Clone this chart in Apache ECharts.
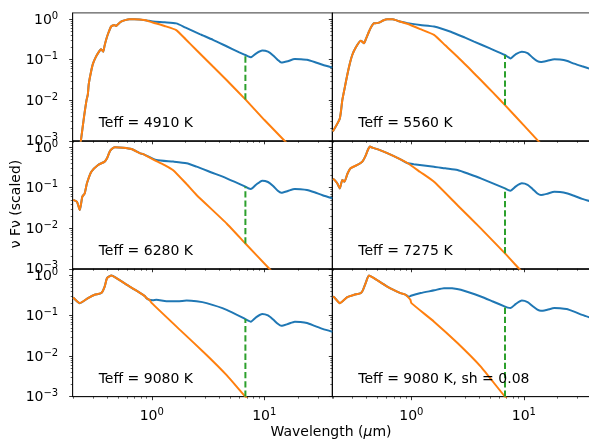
<!DOCTYPE html>
<html><head><meta charset="utf-8">
<script src="https://cdn.jsdelivr.net/npm/echarts@6/dist/echarts.min.js"></script>
<style>html,body{margin:0;padding:0;background:#fff}#c{width:589px;height:439px}</style>
</head><body><div id="c"></div>
<script>
// ---------------- DATA ----------------
const panelLabels = ['Teff = 4910 K', 'Teff = 5560 K', 'Teff = 6280 K', 'Teff = 7275 K', 'Teff = 9080 K', 'Teff = 9080 K, sh = 0.08'];

// stellar photosphere (orange)
const starWl1 = [0.22, 0.234, 0.25, 0.263, 0.27, 0.275, 0.288, 0.3, 0.319, 0.335, 0.353, 0.362, 0.37, 0.38, 0.392, 0.41, 0.434, 0.45, 0.465, 0.48, 0.5, 0.533, 0.58, 0.632, 0.7, 0.776, 0.9, 1.02, 1.3, 1.65, 2.0, 2.49, 3.5, 4.62, 6.8, 10, 15.3, 25, 40.3];
const starFlux1 = [0.0003, 0.001, 0.004, 0.0102, 0.014, 0.025, 0.05, 0.08, 0.119, 0.15, 0.181, 0.17, 0.158, 0.22, 0.308, 0.45, 0.656, 0.70, 0.72, 0.68, 0.75, 0.87, 0.95, 1.0, 1.0, 0.98, 0.93, 0.83, 0.68, 0.54, 0.32, 0.174, 0.068, 0.0316, 0.0105, 0.0033, 0.00098, 0.000225, 0.000055];
const starWl2 = [0.2, 0.231, 0.243, 0.255, 0.269, 0.285, 0.298, 0.32, 0.354, 0.365, 0.379, 0.395, 0.419, 0.44, 0.465, 0.49, 0.515, 0.56, 0.61, 0.68, 0.75, 0.92, 1.2, 1.59, 2.0, 2.57, 3.2, 4.14, 5.3, 6.8, 10, 13.4, 25, 40.3];
const starFlux2 = [0.0017, 0.00357, 0.0101, 0.02, 0.042, 0.085, 0.131, 0.2, 0.295, 0.28, 0.254, 0.33, 0.49, 0.65, 0.795, 0.80, 0.82, 0.93, 1.0, 1.0, 0.92, 0.77, 0.57, 0.41, 0.227, 0.119, 0.065, 0.0316, 0.0157, 0.0076, 0.0024, 0.001, 0.000154, 0.000038];
const starWl3 = [0.2, 0.216, 0.229, 0.241, 0.253, 0.265, 0.29, 0.333, 0.381, 0.4, 0.42, 0.438, 0.469, 0.556, 0.66, 0.78, 0.84, 1.1, 1.3, 1.55, 2.0, 2.5, 4.63, 6.8, 11.1, 20, 40.3];
const starFlux3 = [0.05, 0.045, 0.028, 0.06, 0.072, 0.128, 0.248, 0.363, 0.44, 0.53, 0.75, 0.887, 0.99, 0.97, 0.90, 0.71, 0.67, 0.45, 0.36, 0.27, 0.13, 0.066, 0.0131, 0.0042, 0.001, 0.00017, 0.000021];
const starWl4 = [0.2, 0.205, 0.219, 0.231, 0.243, 0.254, 0.27, 0.288, 0.33, 0.366, 0.39, 0.41, 0.428, 0.45, 0.498, 0.61, 0.8, 0.93, 1.2, 1.59, 2.57, 4.14, 6.8, 9.08, 15, 40.3];
const starFlux4 = [0.165, 0.16, 0.128, 0.096, 0.155, 0.14, 0.22, 0.30, 0.363, 0.44, 0.6, 0.85, 1.03, 0.97, 0.89, 0.71, 0.50, 0.40, 0.243, 0.14, 0.037, 0.0099, 0.0024, 0.001, 0.00022, 0.000012];
const starWl5 = [0.2, 0.229, 0.271, 0.31, 0.356, 0.381, 0.4, 0.438, 0.485, 0.637, 0.837, 0.87, 0.897, 0.95, 1.0, 1.78, 3.07, 4.63, 6.8, 10, 20, 40.3];
const starFlux5 = [0.28, 0.203, 0.27, 0.326, 0.36, 0.52, 0.84, 0.98, 0.84, 0.52, 0.326, 0.30, 0.27, 0.245, 0.203, 0.0445, 0.0107, 0.0034, 0.001, 0.00032, 0.00004, 0.000005];
const starWl6 = [0.2, 0.205, 0.231, 0.269, 0.31, 0.354, 0.37, 0.392, 0.419, 0.465, 0.61, 0.8, 0.89, 0.93, 0.98, 1.0, 1.59, 2.57, 4.14, 6.8, 10, 20, 40.3];
const starFlux6 = [0.29, 0.286, 0.203, 0.286, 0.326, 0.36, 0.42, 0.634, 0.98, 0.84, 0.52, 0.36, 0.326, 0.29, 0.245, 0.203, 0.071, 0.021, 0.0055, 0.001, 0.00032, 0.00004, 0.000005];

// star + dust model (blue): identical to the star up to divergeWl, then these points
const divergeWl = [0.9, 0.75, 0.84, 0.93, 0.95, 0.89];
const diskWl1 = [1.02, 1.3, 1.65, 2.0, 2.67, 3.5, 4.62, 6.0, 6.8, 7.2, 7.6, 8.5, 9.6, 10.8, 12, 13.2, 14.2, 16.2, 18.7, 21, 24, 28, 33, 40.3];
const diskFlux1 = [0.88, 0.84, 0.79, 0.62, 0.43, 0.31, 0.215, 0.152, 0.131, 0.121, 0.115, 0.144, 0.168, 0.158, 0.128, 0.099, 0.085, 0.092, 0.104, 0.103, 0.1, 0.088, 0.075, 0.064];
const diskWl2 = [0.92, 1.2, 1.59, 2.24, 3.0, 3.61, 5.0, 6.8, 7.2, 7.6, 8.5, 9.6, 10.8, 12, 13.2, 14.2, 16.2, 18.7, 21, 24, 28, 33, 40.3];
const diskFlux2 = [0.80, 0.72, 0.66, 0.49, 0.35, 0.28, 0.19, 0.131, 0.118, 0.108, 0.138, 0.158, 0.146, 0.112, 0.092, 0.088, 0.094, 0.103, 0.101, 0.094, 0.08, 0.069, 0.058];
const diskWl3 = [1.1, 1.55, 2.04, 2.5, 3.4, 4.63, 6.8, 7.2, 7.6, 8.5, 9.6, 10.8, 12, 13.2, 14.2, 16.2, 18.7, 21, 24, 28, 33, 40.3];
const diskFlux3 = [0.48, 0.44, 0.40, 0.33, 0.237, 0.17, 0.106, 0.097, 0.093, 0.12, 0.149, 0.138, 0.11, 0.084, 0.075, 0.083, 0.093, 0.092, 0.088, 0.077, 0.065, 0.055];
const diskWl4 = [1.05, 1.59, 2.0, 2.57, 3.3, 4.14, 6.8, 7.2, 7.6, 8.5, 9.6, 10.8, 12, 13.2, 14.2, 16.2, 18.7, 21, 24, 28, 33, 40.3];
const diskFlux4 = [0.38, 0.33, 0.30, 0.273, 0.215, 0.17, 0.096, 0.088, 0.084, 0.108, 0.128, 0.118, 0.092, 0.072, 0.066, 0.071, 0.079, 0.078, 0.073, 0.063, 0.053, 0.045];
const diskWl5 = [1.02, 1.1, 1.35, 1.7, 2.04, 2.5, 3.07, 4.63, 6.8, 7.2, 7.6, 8.5, 9.6, 10.8, 12, 13.2, 14.2, 16.2, 18.7, 21, 24, 28, 33, 40.3];
const diskFlux5 = [0.24, 0.245, 0.225, 0.225, 0.235, 0.225, 0.203, 0.139, 0.082, 0.075, 0.071, 0.092, 0.11, 0.101, 0.08, 0.063, 0.056, 0.062, 0.071, 0.07, 0.066, 0.056, 0.047, 0.040];
const diskWl6 = [0.95, 0.99, 1.21, 1.6, 1.95, 2.3, 2.75, 4.14, 5.3, 6.8, 7.2, 7.6, 8.5, 9.6, 10.8, 12, 13.2, 14.2, 16.2, 18.7, 21, 24, 28, 33, 40.3];
const diskFlux6 = [0.29, 0.308, 0.36, 0.42, 0.476, 0.47, 0.433, 0.296, 0.223, 0.167, 0.157, 0.153, 0.195, 0.235, 0.215, 0.17, 0.14, 0.131, 0.14, 0.153, 0.152, 0.145, 0.125, 0.104, 0.0865];

// green dashed marker
const dashWl = [6.8, 6.8, 6.8, 6.8, 6.8, 6.8];
const dashLow = [0.0105, 0.0076, 0.0042, 0.0024, 0.001, 0.001];
const dashHigh = [0.131, 0.131, 0.106, 0.096, 0.082, 0.167];

// ticks
const xMajorTicks = [1, 10];
const xMinorTicks = [0.2, 0.3, 0.4, 0.5, 0.6, 0.7, 0.8, 0.9, 2, 3, 4, 5, 6, 7, 8, 9, 20, 30, 40];
const yMajorTicks = [0.001, 0.01, 0.1, 1];
const yMinorTicks = [0.002, 0.003, 0.004, 0.005, 0.006, 0.007, 0.008, 0.009, 0.02, 0.03, 0.04, 0.05, 0.06, 0.07, 0.08, 0.09, 0.2, 0.3, 0.4, 0.5, 0.6, 0.7, 0.8, 0.9];
const xLabel = 'Wavelength ({i|μ}m)';
const yLabel = 'ν Fν (scaled)';

// ---------------- CHART ----------------
const starWl = [starWl1, starWl2, starWl3, starWl4, starWl5, starWl6];
const starFlux = [starFlux1, starFlux2, starFlux3, starFlux4, starFlux5, starFlux6];
const diskWl = [diskWl1, diskWl2, diskWl3, diskWl4, diskWl5, diskWl6];
const diskFlux = [diskFlux1, diskFlux2, diskFlux3, diskFlux4, diskFlux5, diskFlux6];

const FONT = 'DejaVu Sans';
const LEFTS = [72.7, 332.3], GW = 259.6, TOP0 = 12.9, GH = 127.93;
const XMIN = 0.198, XMAX = 40.3, YMIN = 0.001, YMAX = 1.43;
const AX = {color: '#000', width: 0.8};

function sup(v) {
  const e = Math.round(Math.log10(v));
  return '{b|10}{s|' + (e < 0 ? '\u2212' + (-e) : String(e)) + '}';
}
const rich = {
  b: {fontFamily: FONT, fontSize: 14, color: '#000', verticalAlign: 'bottom'},
  s: {fontFamily: FONT, fontSize: 10, color: '#000', verticalAlign: 'bottom', padding: [0, 0, 6, 0]}
};

const grids = [], xAxes = [], yAxes = [], series = [], graphics = [];
for (let i = 0; i < 6; i++) {
  const row = Math.floor(i / 2), col = i % 2;
  const left = LEFTS[col], top = TOP0 + row * GH;
  grids.push({left: left, top: top, width: GW, height: GH, show: true, borderColor: '#000', borderWidth: 0.8, backgroundColor: 'transparent', outerBoundsMode: 'none', containLabel: false});
  const xBase = {type: 'log', logBase: 10, min: XMIN, max: XMAX, gridIndex: i, position: 'bottom', splitLine: {show: false}};
  xAxes.push(Object.assign({}, xBase, {
    axisLine: {show: true, lineStyle: AX},
    axisTick: {show: true, length: 3.5, lineStyle: AX, customValues: xMajorTicks},
    axisLabel: {show: row === 2, customValues: xMajorTicks, margin: 11, formatter: v => sup(v), rich: rich, hideOverlap: false}
  }));
  xAxes.push(Object.assign({}, xBase, {
    axisLine: {show: false},
    axisTick: {show: true, length: 2, lineStyle: {color: '#000', width: 0.6}, customValues: xMinorTicks},
    axisLabel: {show: false}
  }));
  const yBase = {type: 'log', logBase: 10, min: YMIN, max: YMAX, gridIndex: i, position: 'left', splitLine: {show: false}};
  yAxes.push(Object.assign({}, yBase, {
    axisLine: {show: true, lineStyle: AX},
    axisTick: {show: true, length: 3.5, lineStyle: AX, customValues: yMajorTicks},
    axisLabel: {show: col === 0, customValues: yMajorTicks, margin: 14.5, formatter: v => sup(v), rich: rich, hideOverlap: false}
  }));
  yAxes.push(Object.assign({}, yBase, {
    axisLine: {show: false},
    axisTick: {show: true, length: 2, lineStyle: {color: '#000', width: 0.6}, customValues: yMinorTicks},
    axisLabel: {show: false}
  }));

  const starData = starWl[i].map((w, k) => [w, starFlux[i][k]]);
  const blueData = starData.filter(p => p[0] <= divergeWl[i]).concat(diskWl[i].map((w, k) => [w, diskFlux[i][k]]));
  const common = {type: 'line', xAxisIndex: 2 * i, yAxisIndex: 2 * i, showSymbol: false, symbol: 'none', clip: true, silent: true, animation: false};
  series.push(Object.assign({}, common, {data: blueData, smooth: 0.2, lineStyle: {color: '#1f77b4', width: 2}, z: 2}));
  series.push(Object.assign({}, common, {data: starData, smooth: 0.15, lineStyle: {color: '#ff7f0e', width: 2}, z: 3}));
  series.push(Object.assign({}, common, {data: [[dashWl[i], dashLow[i]], [dashWl[i], dashHigh[i]]], lineStyle: {color: '#2ca02c', width: 2, type: [6.3, 2.9]}, z: 4}));

  graphics.push({type: 'text', x: left + 0.1 * GW, y: top + GH - 0.1 * GH - 5, z: 10,
    style: {text: panelLabels[i], fill: '#000', font: '14px "' + FONT + '"', align: 'left', verticalAlign: 'middle'}});
}
graphics.push({type: 'text', x: 16, y: 204, rotation: Math.PI / 2, z: 10,
  style: {text: yLabel, fill: '#000', font: '14px "' + FONT + '"', align: 'center', verticalAlign: 'middle'}});
graphics.push({type: 'text', x: 331, y: 432, z: 10,
  style: {text: xLabel, fill: '#000', font: '14px "' + FONT + '"', align: 'center', verticalAlign: 'middle',
    rich: {i: {fontStyle: 'italic', fontFamily: FONT, fontSize: 14, fill: '#000'}}}});

const chart = echarts.init(document.getElementById('c'), null, {renderer: 'canvas'});
chart.setOption({
  animation: false,
  backgroundColor: '#fff',
  textStyle: {fontFamily: FONT},
  grid: grids, xAxis: xAxes, yAxis: yAxes, series: series, graphic: graphics
});
</script></body></html>
